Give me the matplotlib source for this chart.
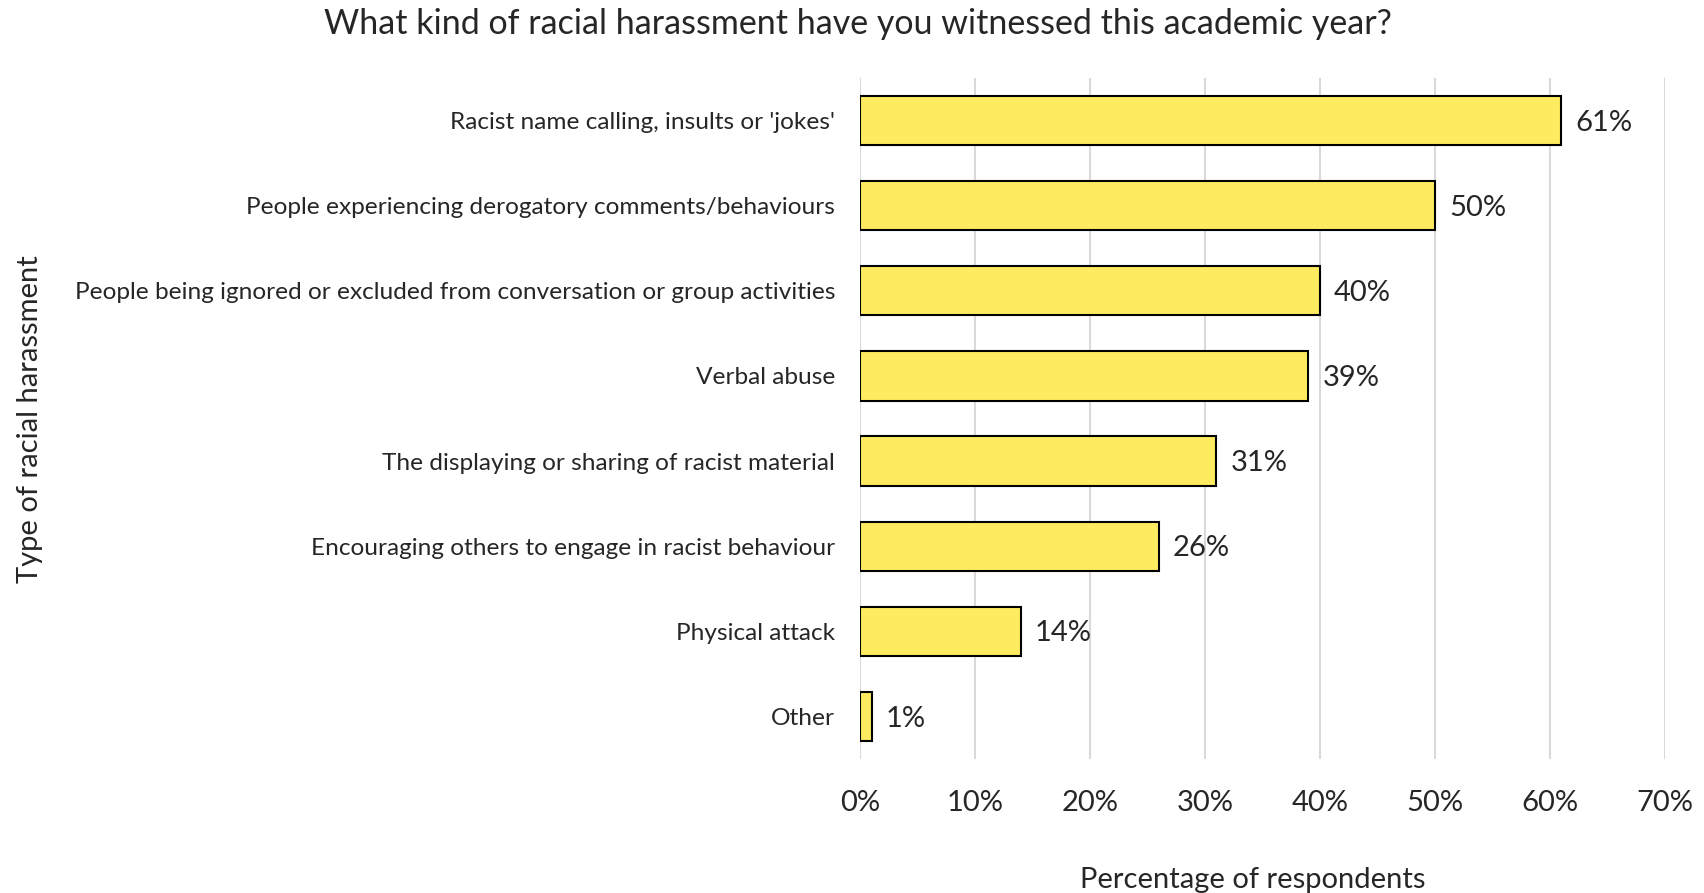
import matplotlib
matplotlib.use("Agg")
import matplotlib.pyplot as plt
from matplotlib.ticker import FuncFormatter

categories = [
    "Racist name calling, insults or 'jokes'",
    "People experiencing derogatory comments/behaviours",
    "People being ignored or excluded from conversation or group activities",
    "Verbal abuse",
    "The displaying or sharing of racist material",
    "Encouraging others to engage in racist behaviour",
    "Physical attack",
    "Other",
]
values = [61, 50, 40, 39, 31, 26, 14, 1]
x_ticks = [0, 10, 20, 30, 40, 50, 60, 70]

title = "What kind of racial harassment have you witnessed this academic year?"
x_label = "Percentage of respondents"
y_label = "Type of racial harassment"

FONT = "Lato"
W = "normal"
plt.rcParams["font.family"] = [FONT, "DejaVu Sans"]
text_color = "#262626"

fig = plt.figure(figsize=(17.04, 8.93), dpi=100)
ax = fig.add_axes([0.5047, 0.150, 0.4724, 0.7627])

ypos = list(range(len(categories)))
ax.barh(ypos, values, height=0.58, color="#FFEB5F", edgecolor="black",
        linewidth=1.5, zorder=3)

for y, v in zip(ypos, values):
    ax.annotate(f"{v}%", xy=(v, y), xytext=(10, -1.5), textcoords="offset points",
                va="center", ha="left", fontsize=21, fontweight=W,
                color=text_color)

ax.set_xlim(0, 70)
ax.set_ylim(len(categories) - 0.5, -0.5)
ax.set_xticks(x_ticks)
ax.xaxis.set_major_formatter(FuncFormatter(lambda v, p: f"{v:.0f}%"))
ax.set_yticks(ypos)
ax.set_yticklabels(categories)

ax.grid(axis="x", color="#D9D9D9", linewidth=1.5, zorder=0)
for s in ax.spines.values():
    s.set_visible(False)
ax.tick_params(axis="both", length=0)
ax.tick_params(axis="x", pad=22, labelsize=21, labelcolor=text_color)
ax.tick_params(axis="y", pad=18, labelsize=17.6, labelcolor=text_color)
for lab in ax.get_xticklabels() + ax.get_yticklabels():
    lab.set_fontweight(W)

fig.text(0.5035, 0.962, title, ha="center", va="baseline", fontsize=24.5,
         fontweight=W, color=text_color)
fig.text(0.7353, 0.0056, x_label, ha="center", va="baseline", fontsize=21,
         fontweight=W, color=text_color)
fig.text(0.0178, 0.531, y_label, ha="center", va="center", rotation=90,
         fontsize=21, fontweight=W, color=text_color)

fig.savefig("out.png", dpi=100, facecolor="white")
